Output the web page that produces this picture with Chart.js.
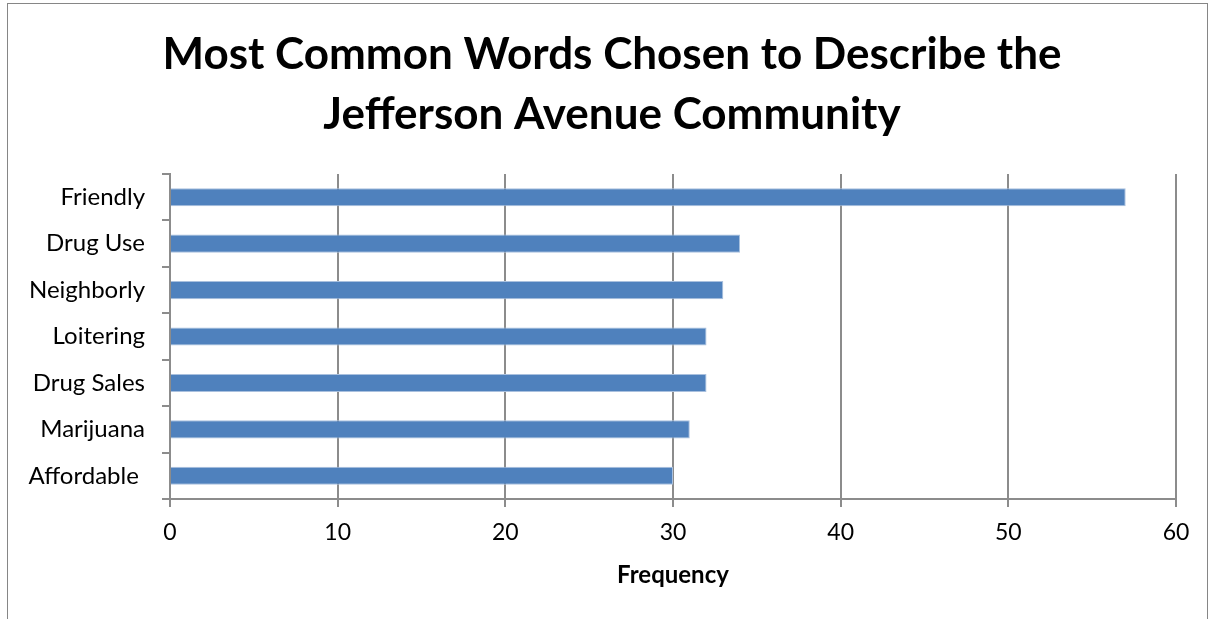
<!DOCTYPE html>
<html>
<head>
<meta charset="utf-8">
<script src="https://cdn.jsdelivr.net/npm/chart.js@4.4.0/dist/chart.umd.min.js"></script>
<style>
  html, body { margin: 0; padding: 0; background: #fff; }
  canvas { display: block; }
</style>
</head>
<body>
<canvas id="c" width="1210" height="619"></canvas>
<script>
const categories = ["Friendly", "Drug Use", "Neighborly", "Loitering", "Drug Sales", "Marijuana", "Affordable "];
const frequency = [57, 34, 33, 32, 32, 31, 30];
const titleLines = ["Most Common Words Chosen to Describe the", "Jefferson Avenue Community"];
const xAxisTitle = "Frequency";
const xMin = 0, xMax = 60, xStep = 10;

const FONT = "Lato, 'Open Sans', 'Liberation Sans', sans-serif";
const GRID = "#8c8c8c";

const borderPlugin = {
  id: "outerBorder",
  afterDraw(chart) {
    const ctx = chart.ctx;
    ctx.save();
    ctx.strokeStyle = "#868686";
    ctx.lineWidth = 1;
    ctx.strokeRect(7.5, 3.5, 1200, 700);
    ctx.restore();
  }
};

new Chart(document.getElementById("c"), {
  type: "bar",
  data: {
    labels: categories,
    datasets: [{
      data: frequency,
      backgroundColor: "#4F81BD",
      borderColor: "#a9c0de",
      borderWidth: { top: 1, bottom: 1, right: 1, left: 0 },
      borderSkipped: false,
      categoryPercentage: 1,
      barPercentage: 0.39
    }]
  },
  options: {
    indexAxis: "y",
    responsive: false,
    animation: false,
    events: [],
    layout: { padding: { left: 14, right: 0, top: 0, bottom: 0 } },
    plugins: {
      legend: { display: false },
      tooltip: { enabled: false },
      title: {
        display: true,
        text: titleLines,
        color: "#000",
        font: { family: FONT, size: 44, weight: "bold", lineHeight: 60 / 44 },
        padding: { top: 25, bottom: 29 }
      }
    },
    scales: {
      x: {
        type: "linear",
        position: "bottom",
        min: xMin,
        max: xMax,
        ticks: {
          stepSize: xStep,
          color: "#000",
          font: { family: FONT, size: 23 },
          padding: 12
        },
        grid: {
          color: GRID,
          lineWidth: 2,
          tickLength: 8,
          drawTicks: true
        },
        border: { color: GRID, width: 2 },
        title: {
          display: true,
          text: xAxisTitle,
          color: "#000",
          font: { family: FONT, size: 24, weight: "bold", lineHeight: 1.2 },
          padding: { top: 0, bottom: 29 }
        },
        afterFit(scale) { scale.height = 120; scale.paddingRight = 34; }
      },
      y: {
        type: "category",
        position: "left",
        ticks: {
          color: "#000",
          font: { family: FONT, size: 24 },
          padding: 17
        },
        grid: {
          display: true,
          drawOnChartArea: false,
          drawTicks: true,
          tickLength: 8,
          color: GRID,
          lineWidth: 2,
          offset: true
        },
        border: { color: GRID, width: 2 },
        afterFit(scale) { scale.width = 156; }
      }
    }
  },
  plugins: [borderPlugin]
});
</script>
</body>
</html>
